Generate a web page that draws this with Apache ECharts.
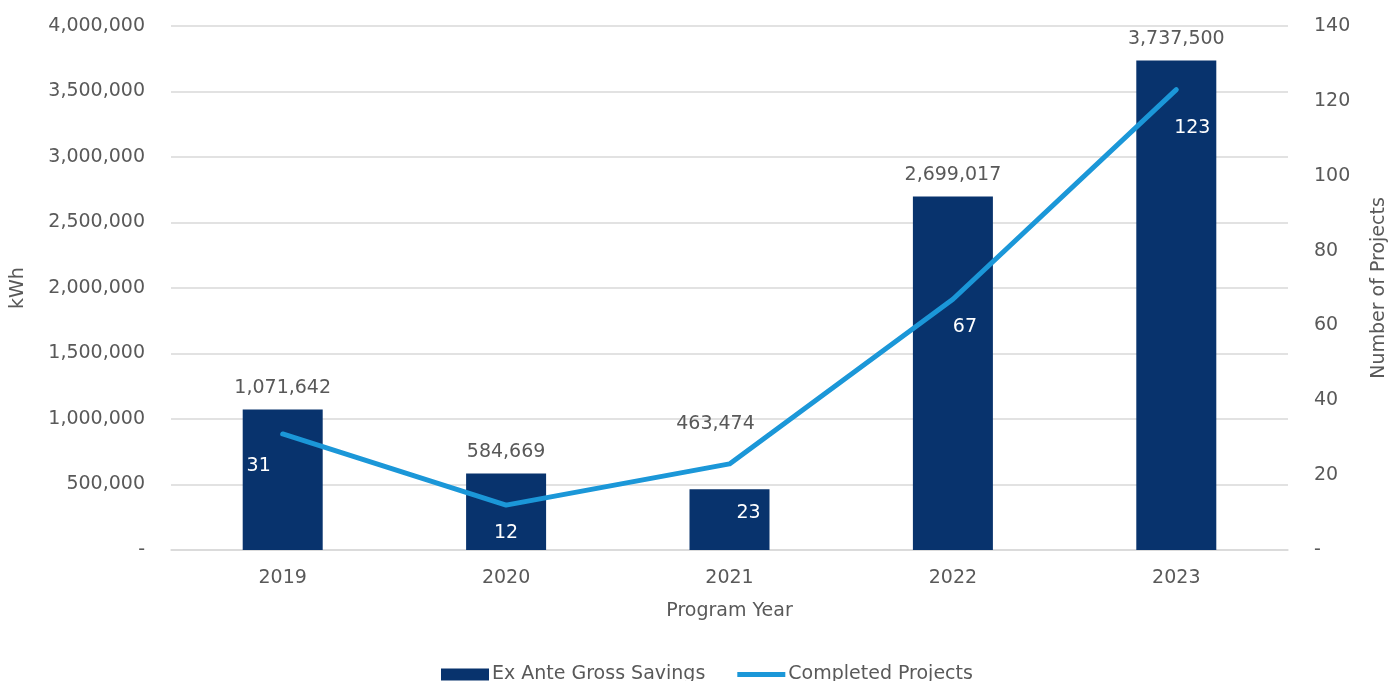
<!DOCTYPE html>
<html>
<head>
<meta charset="utf-8">
<script src="https://cdn.jsdelivr.net/npm/echarts@6/dist/echarts.min.js"></script>
<style>
  html, body { margin: 0; padding: 0; background: #ffffff; }
  #chart { width: 1391px; height: 681px; }
</style>
</head>
<body>
<div id="chart"></div>
<script>
// Program years and results
const years = ['2019', '2020', '2021', '2022', '2023'];
const savingsKWh = [1071642, 584669, 463474, 2699017, 3737500];
const completedProjects = [31, 12, 23, 67, 123];

// Label placement around the line points (dx, dy from the point)
const projectLabelOffsets = [[-24, 32], [0, 28], [19, 49], [12, 28], [16, 38]];
// The 2021 savings label sits above the line
const savingsLabelOffsets = [[0, 0], [0, 0], [-14, -44], [0, 0], [0, 0]];

const FONT = 'DejaVu Sans';
const GREY = '#595959';
const SIZE = 19;
const fmt = v => v === 0 ? '-' : v.toLocaleString('en-US');

const chart = echarts.init(document.getElementById('chart'), null, { renderer: 'canvas' });

chart.setOption({
  animation: false,
  textStyle: { fontFamily: FONT },
  grid: { left: 171, right: 103, top: 26, bottom: 131, outerBoundsMode: 'none', containLabel: false },
  legend: {
    bottom: -8,
    left: 436,
    itemWidth: 48,
    itemHeight: 12,
    itemGap: 32,
    textStyle: { color: GREY, fontSize: SIZE, fontFamily: FONT, padding: [0, 0, 0, -2] },
    data: [
      { name: 'Ex Ante Gross Savings', icon: 'rect' },
      { name: 'Completed Projects', icon: 'path://M0,0 L48,0 L48,5 L0,5 Z' }
    ]
  },
  xAxis: {
    type: 'category',
    data: years,
    name: 'Program Year',
    nameLocation: 'middle',
    nameGap: 52,
    nameTextStyle: { color: GREY, fontSize: SIZE },
    axisLine: { lineStyle: { color: '#d9d9d9', width: 1.5 } },
    axisTick: { show: false },
    axisLabel: { color: GREY, fontSize: SIZE, margin: 19 }
  },
  yAxis: [
    {
      type: 'value',
      min: 0, max: 4000000, interval: 500000,
      name: 'kWh',
      nameLocation: 'middle',
      nameGap: 143,
      nameRotate: 90,
      nameTextStyle: { color: GREY, fontSize: SIZE },
      axisLabel: { color: GREY, fontSize: SIZE, margin: 26, formatter: fmt },
      axisLine: { show: false },
      axisTick: { show: false },
      splitLine: { lineStyle: { color: '#d9d9d9', width: 1.5 } }
    },
    {
      type: 'value',
      min: 0, max: 140, interval: 20,
      name: 'Number of Projects',
      nameLocation: 'middle',
      nameGap: 82,
      nameRotate: 90,
      nameTextStyle: { color: GREY, fontSize: SIZE },
      axisLabel: { color: GREY, fontSize: SIZE, margin: 26, formatter: fmt },
      axisLine: { show: false },
      axisTick: { show: false },
      splitLine: { show: false }
    }
  ],
  series: [
    {
      name: 'Ex Ante Gross Savings',
      type: 'bar',
      yAxisIndex: 0,
      barWidth: 80,
      itemStyle: { color: '#08336d' },
      data: savingsKWh.map((v, i) => ({
        value: v,
        label: { offset: savingsLabelOffsets[i] }
      })),
      label: {
        show: true,
        position: 'top',
        distance: 12,
        color: GREY,
        fontSize: SIZE,
        formatter: p => fmt(p.value)
      }
    },
    {
      name: 'Completed Projects',
      type: 'line',
      yAxisIndex: 1,
      symbol: 'circle',
      symbolSize: 1,
      showSymbol: true,
      lineStyle: { color: '#1b97d8', width: 5, cap: 'round', join: 'round' },
      itemStyle: { color: '#1b97d8' },
      z: 3,
      data: completedProjects.map((v, i) => ({
        value: v,
        label: { offset: projectLabelOffsets[i] }
      })),
      label: {
        show: true,
        position: 'inside',
        color: '#ffffff',
        fontSize: SIZE,
        formatter: p => String(p.value)
      }
    }
  ]
});
</script>
</body>
</html>
